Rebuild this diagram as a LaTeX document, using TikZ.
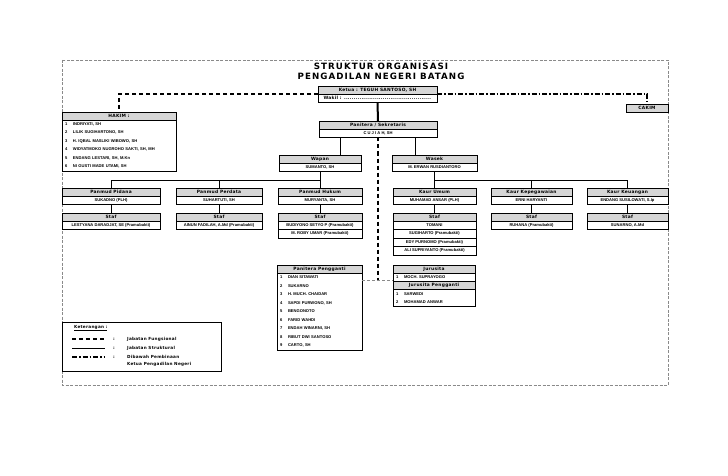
\documentclass[tikz,border=0pt]{standalone}
\usepackage{fontspec}
\setmainfont{Liberation Sans}
\newfontfamily\wideface{DejaVu Sans}[LetterSpace=6]
\newfontfamily\titleface{DejaVu Sans}[LetterSpace=12]
\usepackage{tikz}
\usetikzlibrary{positioning}
\definecolor{hdgray}{HTML}{D6D6D6}
\definecolor{framegray}{HTML}{8A8A8A}
\newcommand{\nmr}[2]{\makebox[8pt][l]{#1}#2}
\tikzset{
  orgHead/.style={draw, fill=hdgray, line width=0.8pt, minimum width=#1, minimum height=8pt,
    inner sep=0pt, outer sep=0pt, font=\wideface\bfseries\fontsize{4.4}{5}\selectfont},
  orgRow/.style={draw, fill=white, line width=0.8pt, minimum width=#1, minimum height=8.5pt,
    inner sep=0pt, outer sep=0pt, font=\bfseries\fontsize{4.1}{5}\selectfont},
  orgList/.style={draw, fill=white, line width=0.8pt, text width=#1, inner xsep=3pt,
    inner ysep=0pt, outer sep=0pt, align=left, font=\bfseries\fontsize{4.1}{8.5}\selectfont},
  titleText/.style={font=\titleface\bfseries\fontsize{8.7}{10}\selectfont, inner sep=0pt},
  legText/.style={anchor=west, inner sep=0pt, font=\wideface\bfseries\fontsize{4.2}{5}\selectfont},
  struk/.style={line width=0.9pt},
  strukTebal/.style={line width=2pt},
  fungsi/.style={line width=1.2pt, dash pattern=on 4pt off 3pt},
  fungsiTebal/.style={line width=1.7pt, dash pattern=on 4pt off 3pt},
  fungsiAbu/.style={draw=framegray, line width=1pt, dash pattern=on 3pt off 2pt},
  bina/.style={line width=1.1pt, dash pattern=on 5pt off 2pt on 1.5pt off 2pt},
  frameLine/.style={draw=framegray, line width=0.5pt, dash pattern=on 3pt off 1.5pt}
}

\begin{document}
\begin{tikzpicture}[x=1pt, y=-1pt]
  \useasboundingbox[fill=white] (0,0) rectangle (728,476);
  \draw[frameLine] (62,60) rectangle (668,385);

  % judul
  \node[titleText] (judul1) at (381,66) {STRUKTUR ORGANISASI};
  \node[titleText, below=3pt of judul1] (judul2) {PENGADILAN NEGERI BATANG};

  % pimpinan
  \node[orgHead=119pt, anchor=north west] (ketua) at (318,86) {Ketua : TEGUH SANTOSO, SH};
  \node[orgRow=119pt, below=0pt of ketua] (wakil) {\makebox[108pt][l]{\wideface\bfseries\fontsize{4.4}{5}\selectfont Wakil :\ \dotfill}};

  \node[orgHead=114pt, anchor=north west] (hakim) at (62,112) {HAKIM :};
  \node[orgList=108pt, minimum height=51pt, below=0pt of hakim] (hakimL) {%
    \nmr{1}{INDRIYATI, SH}\\
    \nmr{2}{LILIK SUGIHARTONO, SH}\\
    \nmr{3}{H. IQBAL MASLIKI WIBOWO, SH}\\
    \nmr{4}{WIDYATMOKO NUGROHO SAKTI, SH, MH}\\
    \nmr{5}{ENDANG LESTARI, SH, M.Kn}\\
    \nmr{6}{NI GUSTI MADE UTAMI, SH}};

  \node[orgHead=42pt, anchor=north west] (cakim) at (626,104) {CAKIM};

  \node[orgHead=118pt, anchor=north west] (panitera) at (319,121) {Panitera / Sekretaris};
  \node[orgRow=118pt, below=0pt of panitera] (paniteraV) {C U J I A H, SH};

  \node[orgHead=82pt, anchor=north west] (wapan) at (279,155) {Wapan};
  \node[orgRow=82pt, below=0pt of wapan] (wapanV) {SUMANTO, SH};
  \node[orgHead=85pt, anchor=north west] (wasek) at (392,155) {Wasek};
  \node[orgRow=85pt, below=0pt of wasek] (wasekV) {M. ERWAN RUSDIANTORO};

  % kepaniteraan
  \node[orgHead=98pt, anchor=north west] (pidana) at (62,188) {Panmud Pidana};
  \node[orgRow=98pt, below=0pt of pidana] (pidanaV) {SUKADNO (PLH)};
  \node[orgHead=98pt, anchor=north west] (pidanaS) at (62,213) {Staf};
  \node[orgRow=98pt, below=0pt of pidanaS] (pidanaS1) {LESTYANA DARADJAT, SE (Pramubakti)};

  \node[orgHead=86pt, anchor=north west] (perdata) at (176,188) {Panmud Perdata};
  \node[orgRow=86pt, below=0pt of perdata] (perdataV) {SUHARTUTI, SH};
  \node[orgHead=86pt, anchor=north west] (perdataS) at (176,213) {Staf};
  \node[orgRow=86pt, below=0pt of perdataS] (perdataS1) {AINUN FADILAH, A.Md (Pramubakti)};

  \node[orgHead=84pt, anchor=north west] (hukum) at (278,188) {Panmud Hukum};
  \node[orgRow=84pt, below=0pt of hukum] (hukumV) {MURYANTA, SH};
  \node[orgHead=84pt, anchor=north west] (hukumS) at (278,213) {Staf};
  \node[orgRow=84pt, below=0pt of hukumS] (hukumS1) {BUDIYONO SETYO P (Pramubakti)};
  \node[orgRow=84pt, below=0pt of hukumS1] (hukumS2) {M. ROBY UMAR (Pramubakti)};

  % kesekretariatan
  \node[orgHead=83pt, anchor=north west] (umum) at (393,188) {Kaur Umum};
  \node[orgRow=83pt, below=0pt of umum] (umumV) {MUHAMAD ANSAR (PLH)};
  \node[orgHead=83pt, anchor=north west] (umumS) at (393,213) {Staf};
  \node[orgRow=83pt, below=0pt of umumS] (umumS1) {TOMANI};
  \node[orgRow=83pt, below=0pt of umumS1] (umumS2) {SUGIHARTO (Pramubakti)};
  \node[orgRow=83pt, below=0pt of umumS2] (umumS3) {EDY PURNOMO (Pramubakti)};
  \node[orgRow=83pt, below=0pt of umumS3] (umumS4) {ALI SUPRIYANTO (Pramubakti)};

  \node[orgHead=81pt, anchor=north west] (kepeg) at (491,188) {Kaur Kepegawaian};
  \node[orgRow=81pt, below=0pt of kepeg] (kepegV) {ERNI HARYANTI};
  \node[orgHead=81pt, anchor=north west] (kepegS) at (491,213) {Staf};
  \node[orgRow=81pt, below=0pt of kepegS] (kepegS1) {RUHANA (Pramubakti)};

  \node[orgHead=81pt, anchor=north west] (keuangan) at (587,188) {Kaur Keuangan};
  \node[orgRow=81pt, below=0pt of keuangan] (keuanganV) {ENDANG SUSILOWATI, S.Ip};
  \node[orgHead=81pt, anchor=north west] (keuanganS) at (587,213) {Staf};
  \node[orgRow=81pt, below=0pt of keuanganS] (keuanganS1) {SUNARNO, A.Md};

  % fungsional
  \node[orgHead=85pt, anchor=north west] (pp) at (277,265) {Panitera Pengganti};
  \node[orgList=79pt, minimum height=77pt, below=0pt of pp] (ppL) {%
    \nmr{1}{DIAN SITAWATI}\\
    \nmr{2}{SUKARNO}\\
    \nmr{3}{H. MUCH. CHAIDAR}\\
    \nmr{4}{SAPDI PURWONO, SH}\\
    \nmr{5}{BENGONOTO}\\
    \nmr{6}{FARID WAHDI}\\
    \nmr{7}{ENDAH WINARNI, SH}\\
    \nmr{8}{RIBUT DWI SANTOSO}\\
    \nmr{9}{CARTO, SH}};

  \node[orgHead=82pt, anchor=north west] (jurusita) at (393,265) {Jurusita};
  \node[orgList=76pt, minimum height=8.5pt, below=0pt of jurusita] (jurusitaL) {\nmr{1}{MOCH. SUPRAYOGO}};
  \node[orgHead=82pt, below=0pt of jurusitaL] (jsp) {Jurusita Pengganti};
  \node[orgList=76pt, minimum height=17pt, below=0pt of jsp] (jspL) {%
    \nmr{1}{SARWEDI}\\
    \nmr{2}{MOHAMAD ANWAR}};

  % garis
  \draw[fungsi] (ketua.south west) -| (hakim.north);
  \draw[bina] (ketua.south east) -| (cakim.north);
  \draw[strukTebal] (wakil.south) -- (panitera.north);
  \draw[struk] ([xshift=-38pt]paniteraV.south) -- ([xshift=-38pt]paniteraV.south |- wapan.north);
  \draw[struk] ([xshift=37pt]paniteraV.south) -- ([xshift=37pt]paniteraV.south |- wasek.north);

  \draw[struk] (wapanV.south) -- (hukum.north);
  \draw[struk] (pidana.north) -- ++(0,-8) -| (hukum.north);
  \draw[struk] (perdata.north) -- ++(0,-8);
  \draw[struk] (wasekV.south) -- (umum.north);
  \draw[struk] (keuangan.north) -- ++(0,-8) -| (umum.north);
  \draw[struk] (kepeg.north) -- ++(0,-8);

  \foreach \u in {pidana, perdata, hukum, umum, kepeg, keuangan}
    \draw[struk] (\u V.south) -- (\u S.north);

  \coordinate (jsJoin) at (378,280);
  \draw[fungsiTebal] (paniteraV.south) -- (jsJoin);
  \draw[fungsiAbu] (ppL.east |- jsJoin) -- (jurusitaL.west |- jsJoin);

  % keterangan
  \node[draw, line width=1.2pt, minimum width=159pt, minimum height=49pt, anchor=north west] (ket) at (62,322) {};
  \node[legText] (ketJudul) at (74,328) {\underline{Keterangan :}};
  \draw[fungsi] (72,339) -- (105,339);
  \draw[struk] (72,348) -- (105,348);
  \draw[bina] (72,357) -- (105,357);
  \node[legText] (ketT1) at (113,339) {:};
  \node[legText] (ketT2) at (113,348) {:};
  \node[legText] (ketT3) at (113,357) {:};
  \node[legText] (ket1) at (127,339) {Jabatan Fungsional};
  \node[legText] (ket2) at (127,348) {Jabatan Struktural};
  \node[legText] (ket3) at (127,357) {Dibawah Pembinaan};
  \node[legText] (ket4) at (127,364) {Ketua Pengadilan Negeri};
\end{tikzpicture}
\end{document}
